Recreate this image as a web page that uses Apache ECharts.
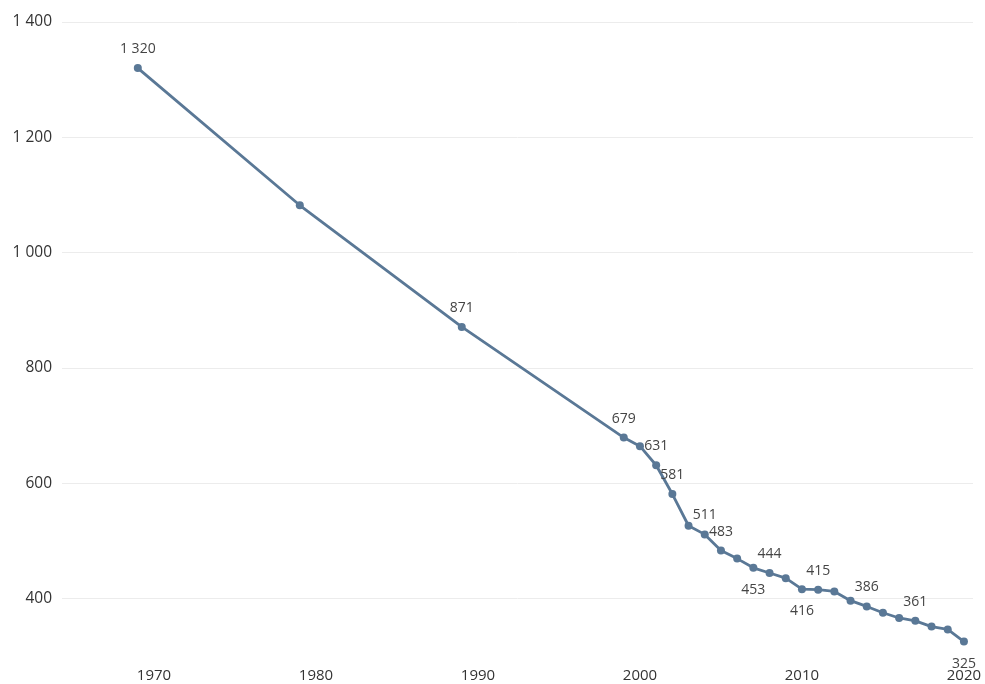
<!DOCTYPE html>
<html>
<head>
	<meta charset="utf-8" />
	<title>line</title>
	<script src="https://cdn.jsdelivr.net/npm/echarts@6/dist/echarts.min.js"></script>
	<style type="text/css">
		html, body { margin: 0; padding: 0; background: #fff; }
		#container { width: 985px; height: 684px; }
	</style>
</head>
<body>
<div id="container"></div>
<script type="text/javascript">
	// data
	var years = [1969, 1979, 1989, 1999, 2000, 2001, 2002, 2003, 2004, 2005, 2006, 2007, 2008,
		2009, 2010, 2011, 2012, 2013, 2014, 2015, 2016, 2017, 2018, 2019, 2020];
	var values = [1320, 1082, 871, 679, 664, 631, 581, 526, 511, 483, 469, 453, 444,
		435, 416, 415, 412, 396, 386, 375, 366, 361, 351, 346, 325];
	var labelAbove = [1969, 1989, 1999, 2001, 2002, 2004, 2005, 2008, 2011, 2014, 2017];
	var labelBelow = [2007, 2010, 2020];
	var xTicks = [1970, 1980, 1990, 2000, 2010, 2020];
	var yTicks = [400, 600, 800, 1000, 1200, 1400];

	function fmt(v) {
		return String(v).replace(/\B(?=(\d{3})+$)/g, ' ');
	}

	var fontFamily = '"Open Sans", "Noto Sans", sans-serif';

	var seriesData = years.map(function (y, i) {
		var item = { value: [y, values[i]] };
		if (labelAbove.indexOf(y) >= 0) {
			item.label = { show: true, position: 'top', distance: 8 };
		} else if (labelBelow.indexOf(y) >= 0) {
			item.label = { show: true, position: 'bottom', distance: 11 };
		}
		return item;
	});

	var chart = echarts.init(document.getElementById('container'));

	chart.setOption({
		animation: false,
		grid: { left: 62, right: 12, top: 22, bottom: 28, containLabel: false },
		xAxis: {
			type: 'value',
			min: 1964.32,
			max: 2020.56,
			axisLine: { show: false },
			axisTick: { show: false, customValues: xTicks },
			splitLine: { show: false },
			axisLabel: {
				customValues: xTicks,
				color: '#333',
				fontSize: 15,
				fontFamily: fontFamily,
				margin: 12,
				formatter: function (v) { return String(v); }
			}
		},
		yAxis: {
			type: 'value',
			min: 300,
			max: 1400,
			axisLine: { show: false },
			axisTick: { show: false, customValues: yTicks },
			splitLine: { show: true, lineStyle: { color: '#ececec', width: 1 } },
			axisLabel: {
				customValues: yTicks,
				color: '#333',
				fontSize: 15.5,
				fontFamily: fontFamily,
				margin: 10,
				formatter: function (v) { return fmt(v); }
			}
		},
		series: [
			{
				type: 'line',
				data: seriesData,
				symbol: 'circle',
				symbolSize: 8,
				lineStyle: { color: '#5a7896', width: 2.8 },
				itemStyle: { color: '#5a7896' },
				label: {
					show: false,
					color: '#444',
					fontSize: 14,
					fontFamily: fontFamily,
					formatter: function (p) { return fmt(p.value[1]); }
				}
			}
		]
	});
</script>
</body>
</html>
